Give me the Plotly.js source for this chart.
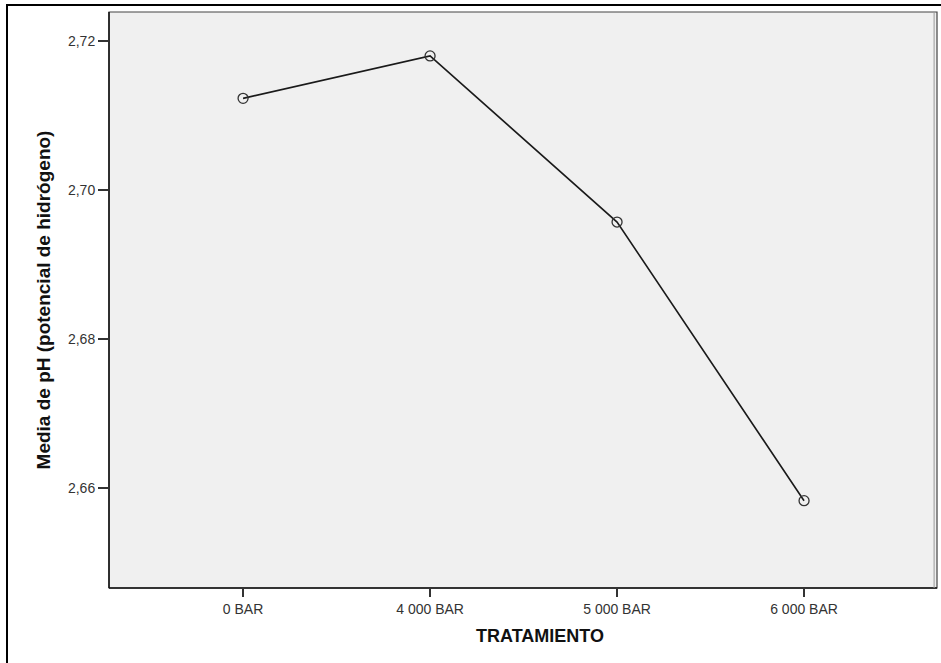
<!DOCTYPE html>
<html>
<head>
<meta charset="utf-8">
<script src="https://cdn.plot.ly/plotly-3.0.1.min.js"></script>
<style>
html,body{margin:0;padding:0;background:#fff;overflow:hidden;}
#frame{position:absolute;left:6px;top:4px;width:1000px;height:1000px;border-left:2px solid #000;border-top:2px solid #000;pointer-events:none;z-index:5;}
#chart{position:absolute;left:0;top:0;width:941px;height:663px;}
</style>
</head>
<body>
<div id="chart"></div>
<div id="frame"></div>
<script>
var categories = ["0 BAR", "4 000 BAR", "5 000 BAR", "6 000 BAR"];
var phMeans = [2.7123, 2.7180, 2.6957, 2.6583];
var yTickVals = [2.66, 2.68, 2.70, 2.72];
var yTickText = ["2,66", "2,68", "2,70", "2,72"];
var xTitle = "TRATAMIENTO";
var yTitle = "Media de pH (potencial de hidrógeno)";

var trace = {
  x: categories,
  y: phMeans,
  type: "scatter",
  mode: "lines+markers",
  line: {color: "#1a1a1a", width: 1.6},
  marker: {symbol: "circle-open", size: 10, color: "#333333", line: {width: 1.3, color: "#333333"}},
  cliponaxis: false,
  hoverinfo: "skip"
};

var layout = {
  width: 941,
  height: 663,
  margin: {l: 109, r: 4, t: 12, b: 75, pad: 0},
  paper_bgcolor: "#ffffff",
  plot_bgcolor: "#f0f0f0",
  showlegend: false,
  font: {family: "Liberation Sans, Arial, sans-serif", color: "#333333", size: 14},
  xaxis: {
    type: "category",
    range: [-0.717, 3.711],
    showgrid: false,
    zeroline: false,
    showline: false,
    ticks: "outside",
    ticklen: 8,
    tickwidth: 1.5,
    tickcolor: "#333333",
    tickfont: {size: 14, color: "#333333"},
    automargin: false
  },
  yaxis: {
    range: [2.64658, 2.72389],
    showgrid: false,
    zeroline: false,
    showline: false,
    tickvals: yTickVals,
    ticktext: yTickText,
    ticks: "outside",
    ticklen: 10,
    tickwidth: 1.5,
    tickcolor: "#333333",
    tickfont: {size: 14, color: "#333333"},
    title: {text: yTitle, font: {size: 19, color: "#111111", family: "Liberation Sans, Arial, sans-serif", weight: "bold"}, standoff: 12},
    automargin: false
  },
  annotations: [
    {text: "<b>" + xTitle + "</b>", xref: "paper", yref: "paper", x: 0.52, y: -0.0833, xanchor: "center", yanchor: "middle", showarrow: false,
     font: {size: 18, color: "#111111", family: "Liberation Sans, Arial, sans-serif"}}
  ],
  shapes: [
    {type: "rect", xref: "paper", yref: "paper", x0: 0, x1: 1, y0: 0, y1: 1, line: {color: "#444444", width: 1.2}, layer: "above"},
    {type: "line", xref: "paper", yref: "paper", x0: 0, x1: 0, y0: 0, y1: 1, line: {color: "#111111", width: 1.5}, layer: "above"},
    {type: "line", xref: "paper", yref: "paper", x0: 0, x1: 1, y0: 0, y1: 0, line: {color: "#111111", width: 1.5}, layer: "above"},
    {type: "line", xref: "paper", yref: "paper", x0: 0.9965, x1: 0.9965, y0: 0, y1: 1, line: {color: "#999999", width: 1}, layer: "above"}
  ]
};

Plotly.newPlot("chart", [trace], layout, {displayModeBar: false, staticPlot: true});
</script>
</body>
</html>
